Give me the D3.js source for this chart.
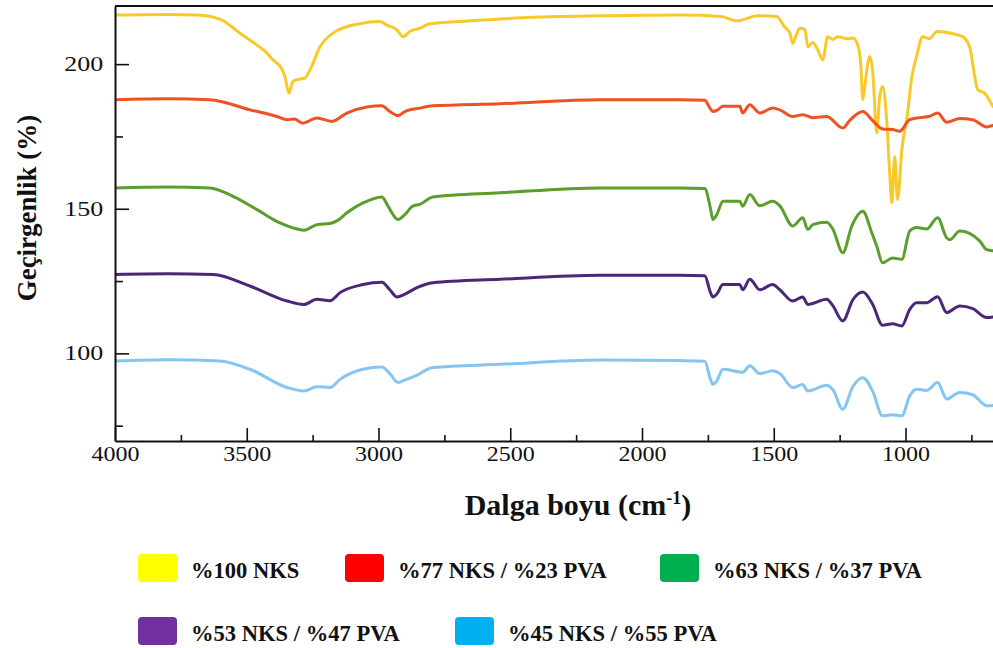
<!DOCTYPE html>
<html>
<head>
<meta charset="utf-8">
<script src="https://cdn.jsdelivr.net/npm/d3@7"></script>
<style>
  html, body { margin: 0; padding: 0; background: #fff; }
  svg { display: block; }
  text { font-family: "Liberation Serif", "Tinos", "Times New Roman", "Nimbus Roman", "DejaVu Serif", serif; fill: #111; }
</style>
</head>
<body>
<svg id="chart" width="993" height="648"></svg>
<script>
// FTIR spectra, [wavenumber (cm-1), transmittance (%)] — curves are offset vertically
const nks100 = [[4000,217],[3800,217.2],[3689,217],[3600,215.5],[3526,210.7],[3460,206.5],[3423,203.8],[3401,201.5],[3370,198.8],[3355,195.7],[3340,190],[3325,194],[3300,194.8],[3279,195.2],[3260,198],[3222,206],[3173,210.7],[3071,214],[2995,214.7],[2968,213.5],[2930,211.8],[2907,209.5],[2881,211.3],[2843,212.4],[2805,214],[2665,214.9],[2414,216.2],[2160,216.7],[1857,217],[1700,216.5],[1640,215],[1560,216.7],[1489,216.5],[1460,213],[1439,210.7],[1428,207.2],[1415,210],[1401,212.4],[1382,212],[1371,206],[1352,207.5],[1333,204.9],[1314,201.5],[1295,209.5],[1276,208.5],[1257,209.5],[1223,208.8],[1200,209],[1181,206.5],[1170,200],[1162,187.7],[1155,192],[1136,202.6],[1125,198],[1109,176.2],[1098,188.8],[1087,192.3],[1071,180],[1060,162.4],[1052,152],[1041,168.1],[1030,153.2],[1014,170.4],[992,183],[977,195],[958,202.6],[935,209.5],[910,208.8],[880,211.3],[820,210.5],[783,209.5],[757,206],[725,191.1],[700,190],[669,185.4]];
const nks77 = [[4000,187.7],[3800,188],[3640,187.7],[3488,184.2],[3385,181.9],[3347,180.8],[3320,181],[3287,179.6],[3234,181.4],[3177,180.2],[3120,183.1],[3044,185.2],[2987,185.6],[2957,183.6],[2926,182.2],[2900,183.6],[2843,184.8],[2794,185.6],[2539,186.3],[2160,187.7],[1857,187.7],[1762,187.5],[1740,184.5],[1731,183.6],[1716,184],[1693,185.4],[1629,185.4],[1618,183.1],[1591,186],[1553,183.1],[1504,184.8],[1477,184.2],[1428,181.9],[1390,182.5],[1352,181.5],[1299,181.9],[1238,177.9],[1212,180.5],[1162,183.6],[1125,180.5],[1087,177.6],[1049,177.4],[1022,176.8],[984,180.8],[946,181.5],[908,182],[878,183.1],[844,179.9],[794,181.2],[745,180.8],[692,178.3],[669,178.8]];
const nks63 = [[4000,157.2],[3800,157.5],[3640,157.2],[3552,154.3],[3461,149.7],[3374,145.1],[3325,143.4],[3283,142.6],[3234,144.5],[3184,144.9],[3158,145.8],[3120,148.6],[3059,152],[2987,154.1],[2964,150.9],[2926,146.3],[2900,148],[2870,150.9],[2843,151.5],[2794,154.1],[2539,155.5],[2160,157.2],[1857,157.2],[1762,157],[1740,150],[1731,146.3],[1716,148],[1693,152.6],[1629,152.6],[1618,150.9],[1591,154.9],[1553,151],[1504,152.6],[1477,151],[1428,144],[1390,146.9],[1371,142.8],[1352,144.5],[1299,145.3],[1276,143],[1238,134.8],[1204,144],[1162,149.1],[1128,141.7],[1109,137],[1087,131.3],[1049,133],[1014,132.5],[984,142.3],[958,143.5],[920,143],[878,146.9],[844,140],[832,139.3],[794,142.3],[757,141.5],[718,138.8],[692,135.9],[669,135.5]];
const nks53 = [[4000,127.3],[3800,127.5],[3628,127.3],[3488,123.3],[3347,118.1],[3283,116.9],[3234,118.7],[3184,118.2],[3146,121],[3059,123.8],[2987,124.6],[2957,122],[2930,119.5],[2900,120.5],[2854,122.7],[2794,124.4],[2539,125.6],[2160,127],[1857,127],[1762,126.8],[1740,121],[1731,119.5],[1716,120.5],[1693,123.8],[1629,123.8],[1618,122],[1591,125.6],[1553,122],[1504,123.8],[1477,122],[1428,118.1],[1390,119.5],[1371,116.9],[1299,118.7],[1276,116.5],[1238,111.2],[1200,118.5],[1162,121.2],[1125,117],[1087,109.7],[1049,110.2],[1014,109.5],[984,115.2],[958,117.5],[920,117.5],[878,119.6],[844,114.1],[794,116.4],[745,115.5],[692,112.4],[669,112.6]];
const nks45 = [[4000,97.4],[3800,97.8],[3602,97.4],[3488,94.5],[3347,88.2],[3283,87],[3234,88.5],[3184,88.2],[3146,91],[3059,94.5],[2987,95.3],[2957,93],[2926,89.9],[2900,90.8],[2854,92.5],[2794,95.1],[2539,96.2],[2160,97.7],[1857,97.5],[1762,97.3],[1740,91],[1731,89.3],[1716,90.5],[1693,94.5],[1618,93.5],[1591,95.7],[1553,93],[1504,94],[1477,93],[1428,88.2],[1390,89.2],[1371,87],[1299,89],[1276,87.5],[1238,80.7],[1200,88.5],[1162,91.6],[1125,87],[1087,78.4],[1049,78.8],[1014,78.4],[984,85.3],[958,87.6],[920,87.2],[878,89.9],[844,84.2],[794,86.5],[745,85.7],[692,81.9],[669,82]];

const seriesNames = ["%100 NKS", "%77 NKS / %23 PVA", "%63 NKS / %37 PVA", "%53 NKS / %47 PVA", "%45 NKS / %55 PVA"];
const seriesData = [nks100, nks77, nks63, nks53, nks45];
const lineColors = ["#f8c92a", "#ee5122", "#5b9e2b", "#4a2777", "#84c5f1"];
const swatchColors = ["#ffff00", "#ff0000", "#00b050", "#7030a0", "#00b0f0"];

const xMajorTicks = [4000, 3500, 3000, 2500, 2000, 1500, 1000];
const xMinorTicks = [3750, 3250, 2750, 2250, 1750, 1250, 750];
const yMajorTicks = [100, 150, 200];
const yMinorTicks = [75, 125, 175];

const svg = d3.select("#chart");
const plotLeft = 115, plotRight = 993, plotTop = 6, plotBottom = 441;

const x = d3.scaleLinear().domain([4000, 668]).range([plotLeft, plotRight]);
const y = d3.scaleLinear().domain([69.7, 220.1]).range([plotBottom, plotTop]);

svg.append("defs").append("clipPath").attr("id", "plotClip")
  .append("rect").attr("x", plotLeft).attr("y", plotTop)
  .attr("width", plotRight - plotLeft).attr("height", plotBottom - plotTop);

// spectra
const line = d3.line().x(d => x(d[0])).y(d => y(d[1])).curve(d3.curveMonotoneX);
const plot = svg.append("g").attr("clip-path", "url(#plotClip)");
plot.selectAll("path.spec").data(seriesData).join("path")
  .attr("class", "spec")
  .attr("d", line)
  .attr("fill", "none")
  .attr("stroke", (d, i) => lineColors[i])
  .attr("stroke-width", 3)
  .attr("stroke-linejoin", "round")
  .attr("stroke-linecap", "round");

// frame: top border
svg.append("line").attr("x1", plotLeft).attr("x2", plotRight).attr("y1", plotTop).attr("y2", plotTop)
  .attr("stroke", "#111").attr("stroke-width", 2);

// axes with inward ticks
const xAxis = svg.append("g").attr("transform", `translate(0,${plotBottom})`)
  .call(d3.axisBottom(x).tickValues(xMajorTicks).tickSize(-13).tickSizeOuter(0).tickFormat(d3.format("d")));
svg.append("g").attr("transform", `translate(0,${plotBottom})`)
  .call(d3.axisBottom(x).tickValues(xMinorTicks).tickSize(-6).tickSizeOuter(0).tickFormat(""))
  .call(g => g.select(".domain").remove());
const yAxis = svg.append("g").attr("transform", `translate(${plotLeft},0)`)
  .call(d3.axisLeft(y).tickValues(yMajorTicks).tickSize(-14).tickSizeOuter(0).tickFormat(d3.format("d")));
svg.append("g").attr("transform", `translate(${plotLeft},0)`)
  .call(d3.axisLeft(y).tickValues(yMinorTicks).tickSize(-8).tickSizeOuter(0).tickFormat(""))
  .call(g => g.select(".domain").remove());

svg.selectAll(".domain").attr("stroke", "#111").attr("stroke-width", 2);
svg.selectAll(".tick line").attr("stroke", "#111").attr("stroke-width", 1.6);

const serif = '"Liberation Serif", "Tinos", "Times New Roman", "Nimbus Roman", "DejaVu Serif", serif';
svg.selectAll(".tick text").attr("font-family", serif).style("font-family", serif);

xAxis.selectAll(".tick text")
  .attr("font-size", 20).attr("fill", "#222")
  .attr("y", 6).attr("dy", "0.71em")
  .attr("transform", "scale(1.2,1)");
yAxis.selectAll(".tick text")
  .attr("font-size", 20).attr("fill", "#222")
  .attr("x", -9).attr("dy", "0.32em")
  .attr("transform", "scale(1.3,1)");

// axis titles
const xt = svg.append("text").attr("x", 578).attr("y", 515).attr("text-anchor", "middle")
  .style("font-family", serif)
  .attr("font-size", 30).attr("font-weight", "bold");
xt.append("tspan").text("Dalga boyu (cm");
xt.append("tspan").text("-1").attr("font-size", 18).attr("dy", -11);
xt.append("tspan").text(")").attr("dy", 11);

svg.append("text")
  .attr("transform", "translate(36,208) rotate(-90)")
  .attr("text-anchor", "middle")
  .style("font-family", serif)
  .attr("font-size", 27).attr("font-weight", "bold")
  .text("Geçirgenlik (%)");

// legend
const legendPos = [[138, 554], [345, 554], [660, 554], [138, 617], [455, 617]];
const legend = svg.append("g").selectAll("g").data(seriesNames).join("g")
  .attr("transform", (d, i) => `translate(${legendPos[i][0]},${legendPos[i][1]})`);
legend.append("rect").attr("width", 39).attr("height", 28).attr("rx", 4)
  .attr("fill", (d, i) => swatchColors[i]);
legend.append("text")
  .attr("transform", "translate(53,24) scale(0.94,1)")
  .style("font-family", serif)
  .attr("font-size", 24).attr("font-weight", "bold")
  .text(d => d);
</script>
</body>
</html>
